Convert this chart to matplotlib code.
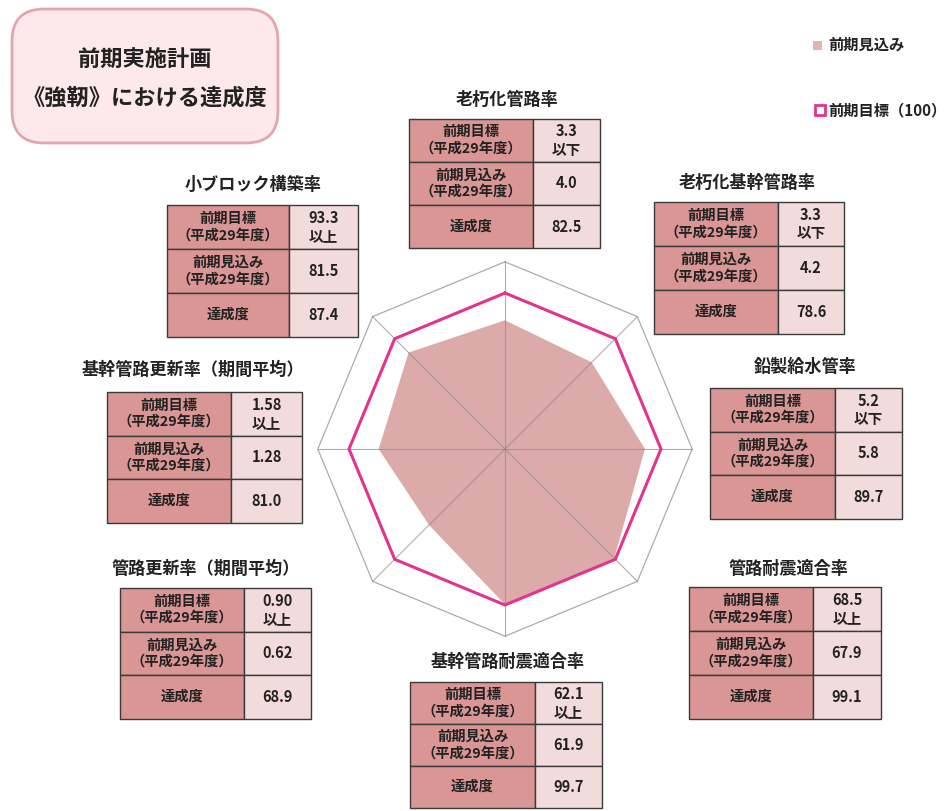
"""
前期実施計画《強靭》における達成度 - radar chart with indicator tables.
"""

import matplotlib
matplotlib.use("Agg")
import matplotlib.pyplot as plt
from matplotlib.patches import Rectangle, FancyBboxPatch
import numpy as np

plt.rcParams["font.family"] = ["Noto Sans CJK JP", "DejaVu Sans"]

# indicators, clockwise from the top of the radar
indicators = [
    "老朽化管路率",
    "老朽化基幹管路率",
    "鉛製給水管率",
    "管路耐震適合率",
    "基幹管路耐震適合率",
    "管路更新率（期間平均）",
    "基幹管路更新率（期間平均）",
    "小ブロック構築率",
]
targets = ["3.3\n以下", "3.3\n以下", "5.2\n以下", "68.5\n以上",
           "62.1\n以上", "0.90\n以上", "1.58\n以上", "93.3\n以上"]
outlooks = ["4.0", "4.2", "5.8", "67.9", "61.9", "0.62", "1.28", "81.5"]
achievement = [82.5, 78.6, 89.7, 99.1, 99.7, 68.9, 81.0, 87.4]
target_level = 100
grid_levels = [100, 120]

row_labels = ["前期目標\n（平成29年度）", "前期見込み\n（平成29年度）", "達成度"]

# table boxes in pixels: left, top, right, bottom, column split, title x, title y
table_boxes = [
    (409, 119, 600, 248, 533, 507, 100),
    (654, 202, 844, 334, 778, 747, 183),
    (710, 388, 902, 519, 835, 805, 367),
    (689, 587, 881, 719, 813, 788, 569),
    (410, 682, 602, 808, 535, 508, 662),
    (120, 588, 311, 719, 244, 206, 569),
    (107, 392, 302, 523, 231, 193, 370),
    (167, 205, 358, 337, 289, 253, 185),
]

W, H = 952, 811
FILL = "#ddaaaa"
PINK = "#e2348c"
GRID = "#ababab"
DARK_CELL = "#d99694"
LIGHT_CELL = "#f2dcdb"
TXT = "#222222"

fig = plt.figure(figsize=(W / 100, H / 100), dpi=100)

# overlay in pixel coordinates for the tables and labels
bg = fig.add_axes([0, 0, 1, 1])
bg.set_xlim(0, W)
bg.set_ylim(H, 0)
bg.axis("off")

# radar: 100 -> 156 px, centre at (505, 449)
cx, cy, half = 505, 449, 195
scale = 156 / 100
lim = half / scale
rad = fig.add_axes([(cx - half) / W, 1 - (cy + half) / H, 2 * half / W, 2 * half / H])
rad.set_xlim(-lim, lim)
rad.set_ylim(-lim, lim)
rad.axis("off")

n = len(indicators)
theta = np.arange(n) * 2 * np.pi / n


def ring(values):
    v = np.asarray(values, dtype=float)
    x = v * np.sin(theta)
    y = v * np.cos(theta)
    return np.append(x, x[0]), np.append(y, y[0])


rad.fill(*ring(achievement), color=FILL, lw=0, zorder=1)
for lvl in grid_levels:
    rad.plot(*ring([lvl] * n), color=GRID, lw=0.9, zorder=2)
for t in theta:
    rad.plot([0, max(grid_levels) * np.sin(t)], [0, max(grid_levels) * np.cos(t)],
             color="#8c8c8c", lw=0.8, alpha=0.7, zorder=2)
rad.plot(*ring([target_level] * n), color=PINK, lw=2.2, zorder=3)

# tables
for name, tgt, out, ach, box in zip(indicators, targets, outlooks, achievement, table_boxes):
    x0, y0, x1, y1, xs, tx, ty = box
    rh = (y1 - y0) / 3
    cells = [tgt, out, f"{ach:.1f}"]
    for i in range(3):
        top = y0 + i * rh
        bg.add_patch(Rectangle((x0, top), xs - x0, rh, facecolor=DARK_CELL,
                               edgecolor="#3a3a3a", lw=1.0))
        bg.add_patch(Rectangle((xs, top), x1 - xs, rh, facecolor=LIGHT_CELL,
                               edgecolor="#3a3a3a", lw=1.0))
        bg.text((x0 + xs) / 2, top + rh / 2, row_labels[i], ha="center", va="center",
                fontsize=10.3, fontweight="bold", color=TXT, linespacing=1.2)
        bg.text((xs + x1) / 2, top + rh / 2, cells[i], ha="center", va="center",
                fontsize=10.5, fontweight="bold", color=TXT, linespacing=1.2)
    bg.text(tx, ty, name, ha="center", va="center", fontsize=12.3,
            fontweight="bold", color=TXT)

# title box
bg.add_patch(FancyBboxPatch((12 + 32, 9 + 32), 266 - 64, 134 - 64,
                            boxstyle="round,pad=32", facecolor="#fde9eb",
                            edgecolor="#e3a6ae", lw=2))
bg.text(145, 60, "前期実施計画", ha="center", va="center", fontsize=16,
        fontweight="bold", color=TXT)
bg.text(145, 98, "《強靭》における達成度", ha="center", va="center", fontsize=16,
        fontweight="bold", color=TXT)

# legend
bg.add_patch(Rectangle((813, 41), 9, 9, facecolor="#e5b2b5", lw=0))
bg.text(828, 45, "前期見込み", ha="left", va="center", fontsize=11,
        fontweight="bold", color=TXT)
bg.add_patch(Rectangle((815, 105), 10, 10, facecolor="white", edgecolor=PINK, lw=2))
bg.text(828, 110, "前期目標（100）", ha="left", va="center", fontsize=11,
        fontweight="bold", color=TXT)

fig.savefig("out.png", dpi=100)
